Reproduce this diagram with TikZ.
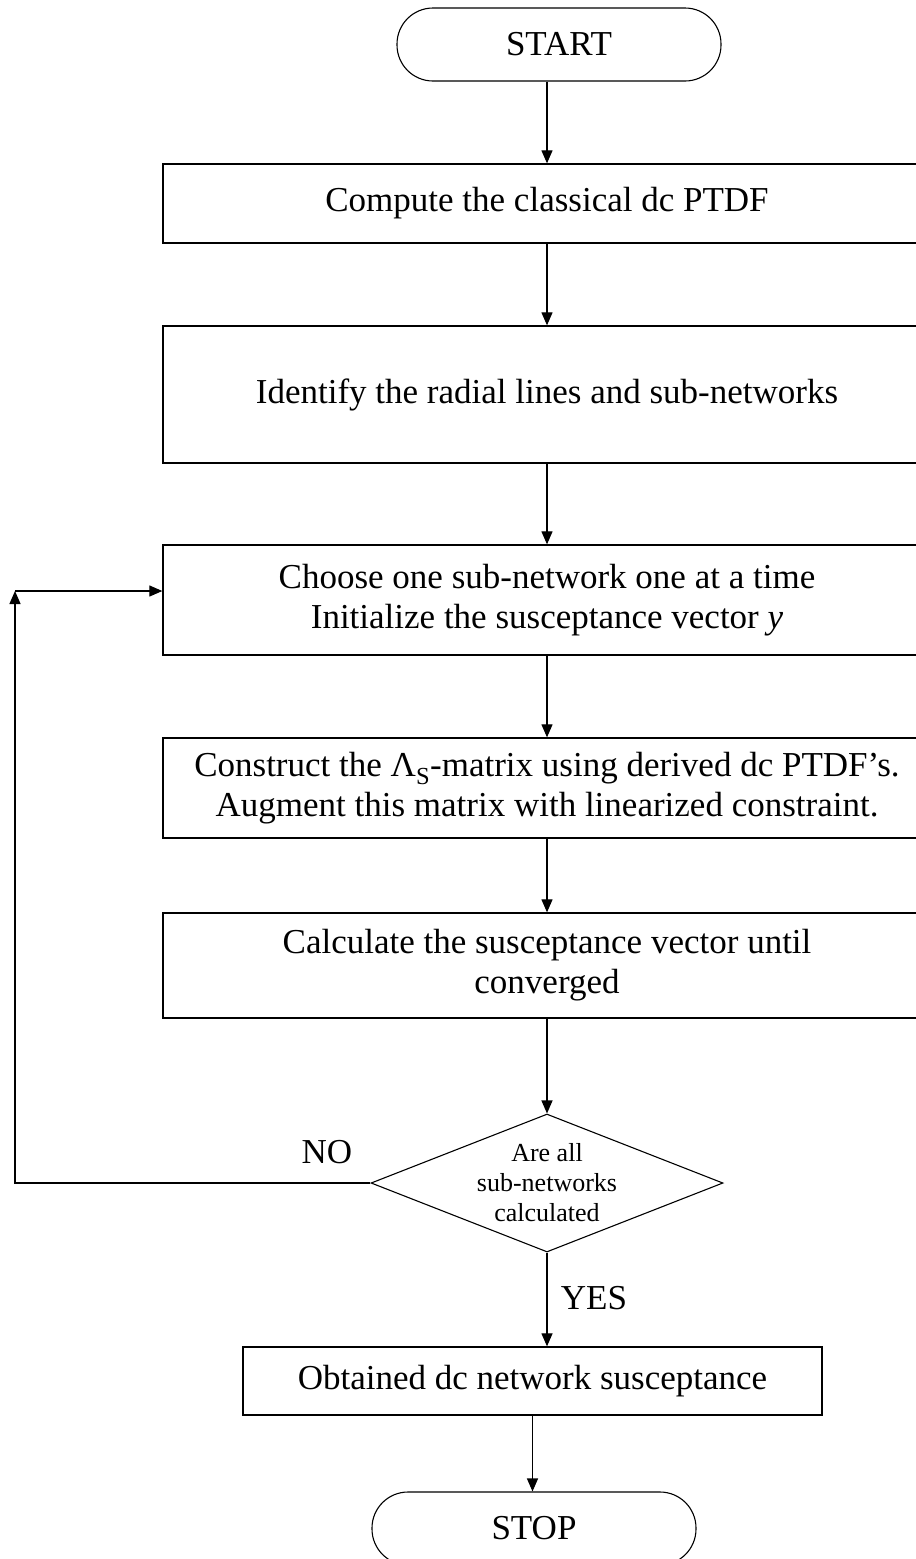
\documentclass[tikz,border=0pt]{standalone}
\usepackage{fontspec}
\setmainfont{Liberation Serif}
\usetikzlibrary{shapes.geometric,arrows.meta}

\begin{document}
\begin{tikzpicture}[x=1pt,y=-1pt,
  every node/.style={font=\fontsize{35}{40}\selectfont},
  terminal/.style={draw, line width=1.1pt, rectangle, rounded corners=36pt,
    minimum width=324pt, minimum height=73pt, inner sep=0pt},
  procbox/.style={draw, line width=1.3pt, rectangle, minimum width=768pt,
    align=center, inner sep=0pt},
  decision/.style={draw, line width=1.1pt, diamond, minimum width=352pt,
    minimum height=138pt, inner sep=0pt},
  qtext/.style={align=center, inner sep=0pt, font=\fontsize{26}{30}\selectfont},
  flow/.style={-{Triangle[length=13pt,width=11pt]}, line width=1.2pt},
  lbl/.style={inner sep=0pt}]

\useasboundingbox (0,0) rectangle (916,1559);

% terminals and process steps
\node[terminal] (start) at (559,44.5) {START};
\node[procbox, minimum height=79pt] (b1) at (547,203.5)
  {Compute the classical dc PTDF};
\node[procbox, minimum height=137pt] (b2) at (547,394.5)
  {Identify the radial lines and sub-networks};
\node[procbox, minimum height=110pt] (b3) at (547,600)
  {Choose one sub-network one at a time\\Initialize the susceptance vector \textit{y}};
\node[procbox, minimum height=100pt] (b4) at (547,788)
  {Construct the Λ\textsubscript{S}-matrix using derived dc PTDF’s.\\Augment this matrix with linearized constraint.};
\node[procbox, minimum height=105pt] (b5) at (547,965.5)
  {Calculate the susceptance vector until\\converged};

% decision
\node[decision] (q) at (547,1183) {};
\node[qtext] (qt) at (q.center) {Are all\\sub-networks\\calculated};

\node[procbox, minimum width=579pt, minimum height=68pt] (b6) at (532.5,1381)
  {Obtained dc network susceptance};
\node[terminal] (stop) at (534,1528.5) {STOP};

% branch labels
\node[lbl] (no) at (327,1152) {NO};
\node[lbl] (yes) at (594,1298) {YES};

% connectors
\draw[flow] (start.south -| b1.north) -- (b1.north);
\draw[flow] (b1.south) -- (b2.north);
\draw[flow] (b2.south) -- (b3.north);
\draw[flow] (b3.south) -- (b4.north);
\draw[flow] (b4.south) -- (b5.north);
\draw[flow] (b5.south) -- (q.north);
\draw[flow] (q.south) -- (q.south |- b6.north);
\draw[flow] (b6.south) -- (b6.south |- stop.north);

% loop back for the next sub-network
\coordinate (corner) at (15,591);
\draw[flow] (q.west) -| (corner);
\draw[flow] (corner) -- (corner -| b3.west);
\end{tikzpicture}
\end{document}
